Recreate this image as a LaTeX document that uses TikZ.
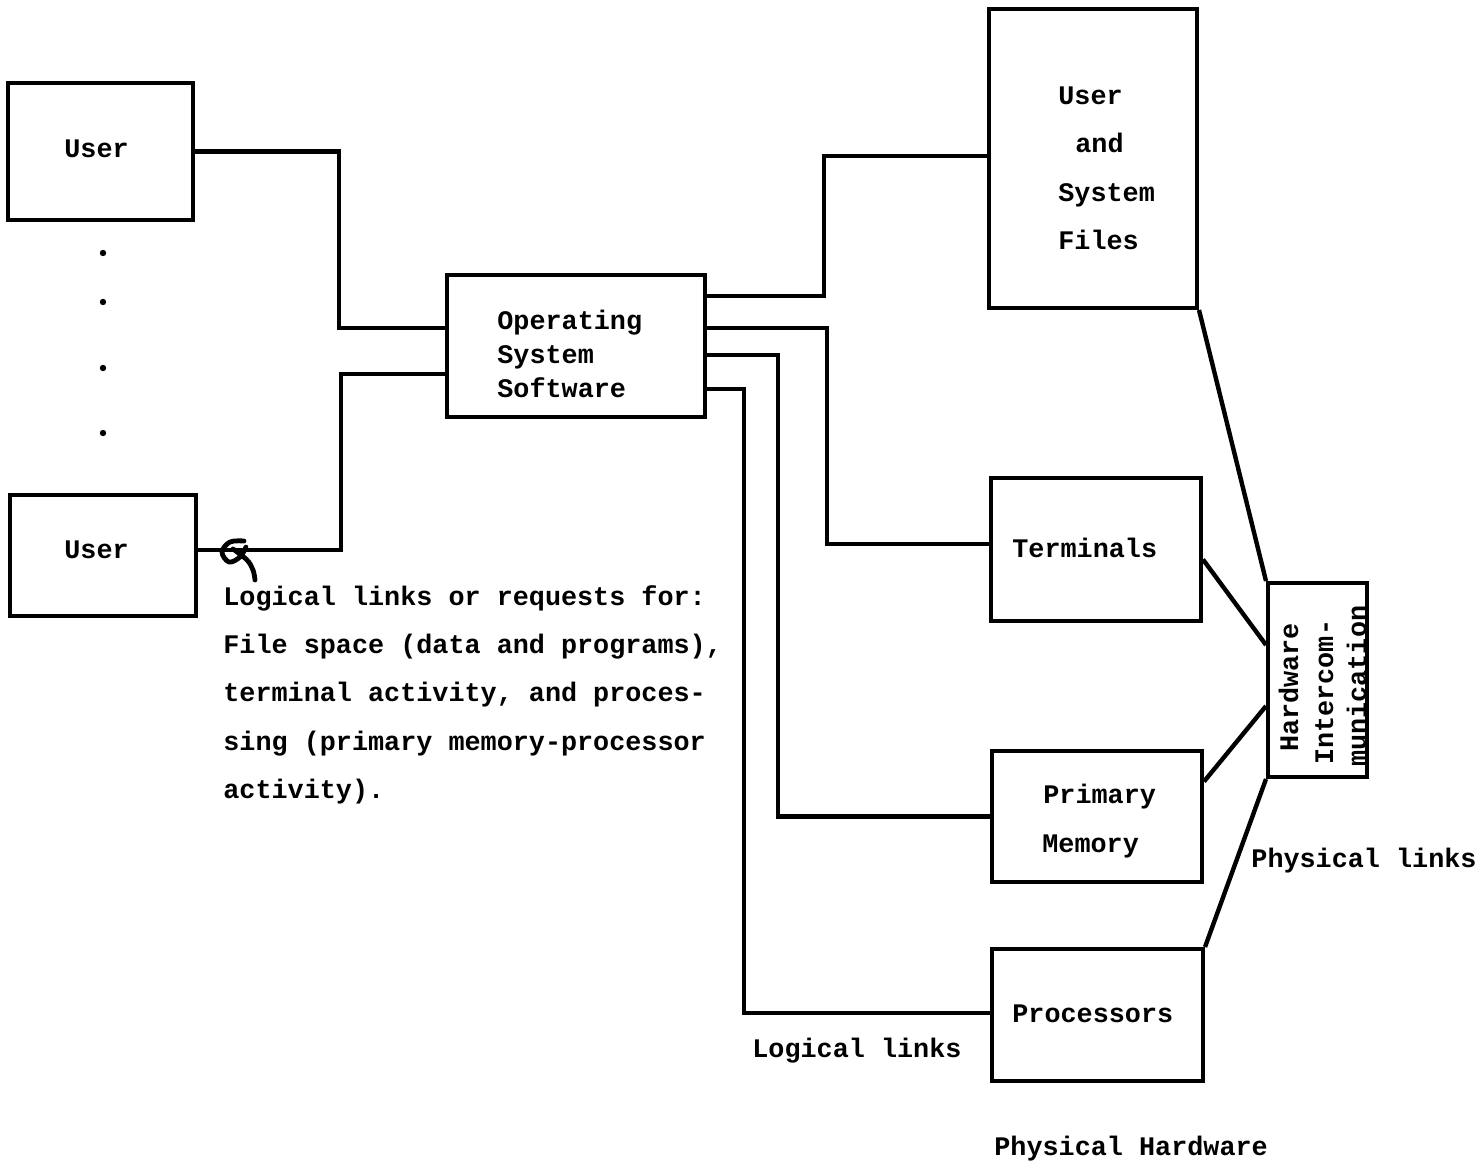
\documentclass[tikz,border=0pt]{standalone}
\usepackage{fontspec}
\usetikzlibrary{calc}
\newfontfamily\tw{Liberation Mono}
\begin{document}
\begin{tikzpicture}[x=0.5pt,y=-0.5pt,
  box/.style={draw, line width=2pt, inner sep=0pt},
  link/.style={line width=2.2pt, line join=miter},
  txt/.style={inner sep=0pt, anchor=base west, font=\tw\bfseries\fontsize{13.4}{16}\selectfont},
  dot/.style={fill, circle, inner sep=0pt, minimum size=3.2pt}]
\useasboundingbox (0,0) rectangle (1481,1167);

% boxes
\node[box, minimum width=92.5pt, minimum height=68.5pt] (user1) at (100.5,151.5) {};
\node[box, minimum width=93pt, minimum height=60.5pt] (user2) at (103,555.5) {};
\node[box, minimum width=129pt, minimum height=71pt] (os) at (576,346) {};
\node[box, minimum width=104pt, minimum height=149.5pt] (files) at (1093,158.5) {};
\node[box, minimum width=105pt, minimum height=71.5pt] (term) at (1096,549.5) {};
\node[box, minimum width=105pt, minimum height=65.5pt] (mem) at (1097,816.5) {};
\node[box, minimum width=105.5pt, minimum height=66pt] (proc) at (1097.5,1015) {};
\node[box, minimum width=49.5pt, minimum height=97pt] (hi) at (1317.5,680) {};

% box texts
\node[txt] (tu1) at (64,157) {User};
\node[txt] (tu2) at (64,558) {User};
\node[txt] (tos1) at (497,329) {Operating};
\node[txt] (tos2) at (497,363) {System};
\node[txt] (tos3) at (497,397) {Software};
\node[txt] (tf1) at (1058,104) {User};
\node[txt] (tf2) at (1075,152) {and};
\node[txt] (tf3) at (1058,201) {System};
\node[txt] (tf4) at (1058,249) {Files};
\node[txt] (tt) at (1012,557) {Terminals};
\node[txt] (tm1) at (1043,803) {Primary};
\node[txt] (tm2) at (1042,852) {Memory};
\node[txt] (tp) at (1012,1022) {Processors};
\node[txt, rotate=90] (th1) at (1298,752) {Hardware};
\node[txt, rotate=90] (th2) at (1333,765) {Intercom-};
\node[txt, rotate=90] (th3) at (1366,767) {munication};

% free labels
\node[txt] (l1) at (223,605) {Logical links or requests for:};
\node[txt] (l2) at (223,653) {File space (data and programs),};
\node[txt] (l3) at (223,701) {terminal activity, and proces-};
\node[txt] (l4) at (223,750) {sing (primary memory-processor};
\node[txt] (l5) at (223,798) {activity).};
\node[txt] (ll) at (752,1057) {Logical links};
\node[txt] (pl) at (1251,867) {Physical links};
\node[txt] (ph) at (994,1155) {Physical Hardware};

% dots between the users
\node[dot] (d1) at (103,253) {};
\node[dot] (d2) at (103,302) {};
\node[dot] (d3) at (103,368) {};
\node[dot] (d4) at (103,433) {};

% logical links
\draw[link] (user1.east) -| ($(os.west)+(-106,-18)$) -- ($(os.west)+(0,-18)$);
\draw[link] ($(user2.east)+(0,-5.5)$) -| ($(os.west)+(-104,28)$) -- ($(os.west)+(0,28)$);
\draw[link] ($(os.east)+(0,-50)$) -- ++(117,0) |- ($(files.west)+(0,-2.5)$);
\draw[link] ($(os.east)+(0,-18)$) -- ++(120,0) |- ($(term.west)+(0,-5.5)$);
\draw[link] ($(os.east)+(0,9)$) -- ++(71,0) |- (mem.west);
\draw[link] ($(os.east)+(0,43)$) -- ++(37,0) |- ($(proc.west)+(0,-2)$);

% physical links
\draw[link] (files.south east) -- (hi.north west);
\draw[link] ($(term.east)+(0,10)$) -- ($(hi.west)+(0,-35)$);
\draw[link] ($(mem.east)+(0,-35)$) -- ($(hi.west)+(0,26)$);
\draw[link] (proc.north east) -- (hi.south west);

% hand-written mark on the lower user link
\draw[line width=2.4pt, line cap=round, line join=round]
  plot[smooth, tension=0.6] coordinates {(244,541) (230,542) (222,552) (229,562) (240,557) (246,547)}
  plot[smooth, tension=0.6] coordinates {(233,549) (247,560) (253,570) (255,580)};
\end{tikzpicture}
\end{document}
